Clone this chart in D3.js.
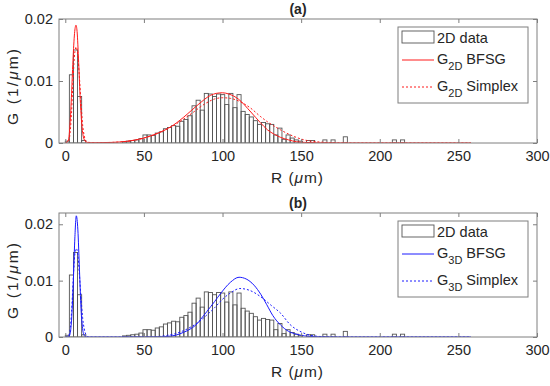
<!DOCTYPE html>
<html><head><meta charset="utf-8">
<script src="https://cdn.jsdelivr.net/npm/d3@7"></script>
<style>body{margin:0;background:#fff} text{font-family:Arial,"Liberation Sans",sans-serif;fill:#262626}</style>
</head><body><svg id="c" width="550" height="386"></svg>
<script>
// ---------- data ----------
const binWidth = 2.6; // µm, histogram bin width
const histHeights = [
  0.0003, 0.011, 0.015, 0.0075, 0.0004, 0, 0, 0, 0, 0,
  0, 0, 0, 0, 0.0002, 0.0003, 0.0004, 0.0005, 0.0007, 0.0013,
  0.0013, 0.0012, 0.0016, 0.0018, 0.0023, 0.0025, 0.0028, 0.0027, 0.0035, 0.0038,
  0.0044, 0.006, 0.0069, 0.0053, 0.008, 0.0079, 0.0075, 0.0079, 0.0078, 0.0062,
  0.008, 0.0057, 0.0078, 0.0051, 0.0046, 0.0042, 0.0036, 0.003, 0.0033, 0.0031,
  0.003, 0.0013, 0.0024, 0.0006, 0.0013, 0.0008, 0.0005, 0.0003, 0, 0.0004,
  0.0004, 0, 0, 0.0005, 0, 0.0005, 0, 0, 0.001, 0,
  0, 0, 0, 0, 0, 0, 0, 0, 0, 0,
  0.0005, 0, 0.0005
];
const xTicks = [0, 50, 100, 150, 200, 250, 300];
const yTicks = [0, 0.01, 0.02];

const bfsg2D_R = [0, 2, 3, 4, 5, 6, 6.8, 7.5, 8.5, 9.5, 10.5, 11.5, 13, 15, 20, 30, 40, 50, 55, 60, 67, 75, 80, 85, 92.5, 96, 100, 104, 110, 118, 124, 128.7, 133, 137, 142, 147, 152, 160, 180, 258];
const bfsg2D_G = [0, 0.0005, 0.003, 0.008, 0.014, 0.018, 0.019, 0.018, 0.013, 0.007, 0.003, 0.001, 0.0002, 0.00005, 0.00005, 0.0001, 0.0003, 0.0008, 0.0012, 0.0017, 0.0026, 0.0041, 0.0052, 0.0063, 0.0077, 0.0080, 0.0081, 0.0079, 0.0071, 0.0050, 0.0033, 0.0021, 0.0014, 0.0009, 0.0005, 0.0002, 0.0001, 0.00003, 0, 0];

const simplex2D_R = [0, 2, 3, 4, 5, 6, 7, 8, 9, 10, 11, 12, 13, 15, 20, 30, 40, 50, 60, 70, 80, 90, 95, 100, 105, 110, 118, 124, 128.7, 133, 137, 145, 152, 160, 170, 180, 258];
const simplex2D_G = [0, 0.0003, 0.0015, 0.005, 0.0105, 0.0145, 0.0155, 0.014, 0.0105, 0.0065, 0.003, 0.0012, 0.0004, 0.0001, 0.00005, 0.0001, 0.0003, 0.0008, 0.0017, 0.003, 0.0047, 0.0065, 0.0071, 0.0073, 0.0072, 0.0068, 0.0056, 0.0043, 0.0034, 0.0027, 0.0021, 0.0011, 0.0005, 0.0002, 0.00005, 0, 0];

const bfsg3D_R = [0, 2, 3, 4, 5, 6, 7, 8, 9, 10, 11, 12, 13, 20, 60, 65, 70, 75, 80, 84, 86, 90, 92.5, 95, 99, 105, 110.5, 115, 120, 124.5, 128, 132, 137, 142, 147, 152, 160, 170, 258];
const bfsg3D_G = [0, 0, 0.0005, 0.003, 0.009, 0.017, 0.0215, 0.019, 0.012, 0.005, 0.0015, 0.0003, 0, 0, 0, 0.0001, 0.0003, 0.0008, 0.0015, 0.0024, 0.0031, 0.0045, 0.0054, 0.0063, 0.0078, 0.0097, 0.0106, 0.0103, 0.0092, 0.0075, 0.0058, 0.0038, 0.0021, 0.001, 0.0005, 0.0002, 0.00005, 0, 0];

const simplex3D_R = [0, 2, 3, 4, 5, 6, 7, 8, 9, 10, 11, 12, 13, 14, 16, 55, 60, 65, 70, 75, 80, 85, 90, 95, 100, 105, 111, 117, 124, 131, 137, 143, 150, 158, 165, 175, 258];
const simplex3D_G = [0, 0.0002, 0.0012, 0.0045, 0.01, 0.0145, 0.0157, 0.0145, 0.011, 0.007, 0.0035, 0.0015, 0.0005, 0.0001, 0, 0, 0.0001, 0.0003, 0.0006, 0.0011, 0.0018, 0.0027, 0.0039, 0.0052, 0.0067, 0.0078, 0.0086, 0.0083, 0.0072, 0.0056, 0.0042, 0.0022, 0.0009, 0.0002, 0.00005, 0, 0];

// ---------- drawing ----------
const svg = d3.select("#c");
const left = 59, right = 537;
const x = d3.scaleLinear().domain([-4, 300]).range([left, right]);
const gray = "#7f7f7f";

const panels = [
  {id: "a", top: 19, bottom: 143, ymax: 0.02, color: "#ff1a1a", sub: "2D",
   solid: [bfsg2D_R, bfsg2D_G], dashed: [simplex2D_R, simplex2D_G]},
  {id: "b", top: 213, bottom: 337, ymax: 0.022, color: "#1a1aff", sub: "3D",
   solid: [bfsg3D_R, bfsg3D_G], dashed: [simplex3D_R, simplex3D_G]}
];

panels.forEach((p, pi) => {
  const y = d3.scaleLinear().domain([0, p.ymax]).range([p.bottom, p.top]);
  const g = svg.append("g");
  const clipId = "clip" + pi;
  svg.append("clipPath").attr("id", clipId).append("rect")
    .attr("x", left).attr("y", p.top).attr("width", right - left).attr("height", p.bottom - p.top);

  // histogram
  const hg = g.append("g").attr("clip-path", `url(#${clipId})`);
  histHeights.forEach((h, i) => {
    if (h <= 0) return;
    const r0 = i * binWidth, r1 = (i + 1) * binWidth;
    hg.append("rect")
      .attr("x", x(r0)).attr("y", y(h))
      .attr("width", x(r1) - x(r0)).attr("height", y(0) - y(h))
      .attr("fill", "none").attr("stroke", "#555").attr("stroke-width", 0.9);
  });

  // curves
  const line = d3.line().x(d => x(d[0])).y(d => y(d[1])).curve(d3.curveMonotoneX);
  const zip = (a) => a[0].map((r, i) => [r, a[1][i]]);
  hg.append("path").datum(zip(p.dashed)).attr("d", line)
    .attr("fill", "none").attr("stroke", p.color).attr("stroke-width", 1).attr("stroke-dasharray", "2,2");
  hg.append("path").datum(zip(p.solid)).attr("d", line)
    .attr("fill", "none").attr("stroke", p.color).attr("stroke-width", 1);

  // axes box
  g.append("rect").attr("x", left).attr("y", p.top).attr("width", right - left).attr("height", p.bottom - p.top)
    .attr("fill", "none").attr("stroke", gray).attr("stroke-width", 1);

  // ticks
  const xb = g.append("g").attr("transform", `translate(0,${p.bottom})`)
    .call(d3.axisBottom(x).tickValues(xTicks).tickSize(-4).tickPadding(8).tickFormat(d3.format("d")));
  const xt = g.append("g").attr("transform", `translate(0,${p.top})`)
    .call(d3.axisTop(x).tickValues(xTicks).tickSize(-4).tickFormat(""));
  const yl = g.append("g").attr("transform", `translate(${left},0)`)
    .call(d3.axisLeft(y).tickValues(yTicks).tickSize(-4).tickPadding(6).tickFormat(d => d === 0 ? "0" : d3.format(".2f")(d)));
  const yr = g.append("g").attr("transform", `translate(${right},0)`)
    .call(d3.axisRight(y).tickValues(yTicks).tickSize(-4).tickFormat(""));
  [xb, xt, yl, yr].forEach(a => {
    a.select(".domain").remove();
    a.selectAll(".tick line").attr("stroke", gray);
    a.selectAll("text").attr("font-size", 14.5).attr("fill", "#262626").attr("font-family", "Arial, 'Liberation Sans', sans-serif");
  });

  // title
  g.append("text").attr("x", (left + right) / 2).attr("y", p.top - 5).attr("text-anchor", "middle")
    .attr("font-size", 14).attr("font-weight", "bold").text(`(${p.id})`);

  // x label
  const xlab = g.append("text").attr("x", 297).attr("y", p.bottom + 40).attr("text-anchor", "middle")
    .attr("font-size", 15.5).attr("textLength", 52).attr("lengthAdjust", "spacing");
  xlab.append("tspan").text("R (");
  xlab.append("tspan").attr("font-style", "italic").text("\u03bc");
  xlab.append("tspan").text("m)");

  // y label
  const ylab = g.append("text").attr("transform", `translate(18,${(p.top + p.bottom) / 2 + 6}) rotate(-90)`)
    .attr("text-anchor", "middle").attr("font-size", 15.5).attr("textLength", 76).attr("lengthAdjust", "spacing");
  ylab.append("tspan").text("G (1/");
  ylab.append("tspan").attr("font-style", "italic").text("\u03bc");
  ylab.append("tspan").text("m)");

  // legend
  const lx = 398, ly = p.top + 8;
  const lg = g.append("g");
  lg.append("rect").attr("x", lx).attr("y", ly).attr("width", 130).attr("height", 76)
    .attr("fill", "#fff").attr("stroke", gray).attr("stroke-width", 1);
  lg.append("rect").attr("x", lx + 4).attr("y", ly + 4).attr("width", 32).attr("height", 12)
    .attr("fill", "none").attr("stroke", "#555").attr("stroke-width", 0.9);
  lg.append("text").attr("x", lx + 39).attr("y", ly + 16).attr("font-size", 14.5).text("2D data");
  const entries = [{dash: null, label: "BFSG", dy: 33}, {dash: "2,2", label: "Simplex", dy: 60}];
  entries.forEach(e => {
    lg.append("line").attr("x1", lx + 4).attr("x2", lx + 36).attr("y1", ly + e.dy).attr("y2", ly + e.dy)
      .attr("stroke", p.color).attr("stroke-width", 1).attr("stroke-dasharray", e.dash);
    const t = lg.append("text").attr("x", lx + 39).attr("y", ly + e.dy + 4).attr("font-size", 14.5);
    t.append("tspan").text("G");
    t.append("tspan").attr("font-size", 11).attr("dy", 6).text(p.sub);
    t.append("tspan").attr("dy", -6).text(" " + e.label);
  });
});
</script></body></html>
